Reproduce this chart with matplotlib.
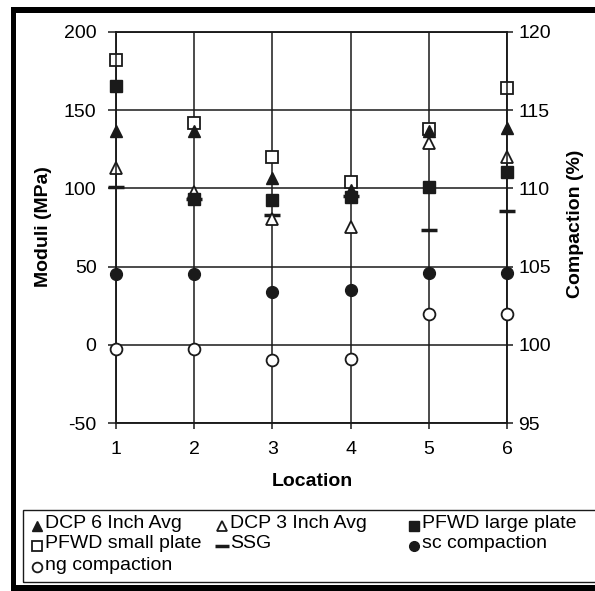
import matplotlib
matplotlib.use("Agg")
import matplotlib.pyplot as plt
from matplotlib.lines import Line2D
from matplotlib.patches import Rectangle

plt.rcParams["font.family"] = ["Liberation Sans", "DejaVu Sans"]
plt.rcParams["axes.unicode_minus"] = False

# values
locations = [1, 2, 3, 4, 5, 6]
dcp_6in = [137, 137, 106.5, 99, 137, 138.5]
dcp_3in = [113, 97.5, 80.5, 75.5, 129, 120]
pfwd_large = [165.5, 93, 92.5, 94.5, 101, 110.5]
pfwd_small = [182, 142, 120, 104, 138, 164]
ssg = [101, 93, 83, 95, 73.5, 85.5]
sc_compaction = [104.5, 104.5, 103.4, 103.5, 104.6, 104.6]
ng_compaction = [99.7, 99.7, 99.0, 99.1, 102.0, 102.0]

moduli_ticks = [-50, 0, 50, 100, 150, 200]
compaction_ticks = [95, 100, 105, 110, 115, 120]

W, H = 595, 591
INK = "#1a1a1a"

fig = plt.figure(figsize=(W / 100, H / 100), dpi=100)
fig.patch.set_facecolor("white")


def fx(px):
    return px / W


def fy(py):
    return 1 - py / H


ax = fig.add_axes([fx(116), fy(423), fx(507) - fx(116), fy(32) - fy(423)])
ax2 = ax.twinx()

ax.set_xlim(1, 6)
ax.set_ylim(-50, 200)
ax2.set_ylim(95, 120)
ax.set_xticks(locations)
ax.set_yticks(moduli_ticks)
ax2.set_yticks(compaction_ticks)

for a in (ax, ax2):
    for s in a.spines.values():
        s.set_color(INK)
        s.set_linewidth(1.1)
ax.grid(True, color=INK, linewidth=1.1)
ax.set_axisbelow(True)

ax.tick_params(axis="y", direction="out", length=6, width=1.1, color=INK,
               labelsize=14, pad=8)
ax.tick_params(axis="x", direction="out", length=4, width=1.1, color=INK,
               labelsize=14, pad=9)
ax2.tick_params(axis="y", direction="out", length=4, width=1.1, color=INK,
                labelsize=14, pad=4)

ms = 8.5
series = [
    ("DCP 6 Inch Avg", ax, dcp_6in, dict(marker="^", mfc=INK, mec=INK, ms=ms)),
    ("DCP 3 Inch Avg", ax, dcp_3in, dict(marker="^", mfc="white", mec=INK, ms=ms, mew=1.3)),
    ("PFWD large plate", ax, pfwd_large, dict(marker="s", mfc=INK, mec=INK, ms=ms)),
    ("PFWD small plate", ax, pfwd_small, dict(marker="s", mfc="white", mec=INK, ms=ms, mew=1.3)),
    ("SSG", ax, ssg, dict(marker="_", mec=INK, ms=11, mew=2.5)),
    ("sc compaction", ax2, sc_compaction, dict(marker="o", mfc=INK, mec=INK, ms=ms)),
    ("ng compaction", ax2, ng_compaction, dict(marker="o", mfc="white", mec=INK, ms=ms, mew=1.3)),
]

draw_order = [4, 3, 1, 2, 0, 5, 6]
for i in draw_order:
    label, a, vals, style = series[i]
    a.plot(locations, vals, linestyle="none", clip_on=False, zorder=3, **style)

fig.text(fx(43), fy(227), "Moduli (MPa)", rotation=90, ha="center", va="center",
         fontsize=14, fontweight="bold")
fig.text(fx(576), fy(224), "Compaction (%)", rotation=90, ha="center", va="center",
         fontsize=14, fontweight="bold")
fig.text(fx(312), fy(482), "Location", ha="center", va="center",
         fontsize=14, fontweight="bold")

# legend box, laid out row by row like the original
fig.add_artist(Rectangle((fx(23), fy(582)), fx(600) - fx(23), fy(510) - fy(582),
                         transform=fig.transFigure, fill=False, edgecolor=INK,
                         linewidth=1.0))
col_x = [37, 222, 414]
row_y = [524, 544, 565]
for k, (label, a, vals, style) in enumerate(series):
    r, c = divmod(k, 3)
    st = dict(style)
    st["ms"] = 7 if st["marker"] != "_" else 10
    fig.add_artist(Line2D([fx(col_x[c])], [fy(row_y[r] + 2)], linestyle="none",
                          transform=fig.transFigure, **st))
    fig.text(fx(col_x[c] + 8), fy(row_y[r]), label, ha="left", va="center",
             fontsize=14)

# black scan frame on left, top and bottom
for x0, y0, x1, y1 in [(11, 7, 16, 591), (11, 7, 595, 13), (11, 585, 595, 591)]:
    fig.add_artist(Rectangle((fx(x0), fy(y1)), fx(x1) - fx(x0), fy(y0) - fy(y1),
                             transform=fig.transFigure, facecolor="black",
                             edgecolor="none"))

fig.savefig("out.png", dpi=100)
